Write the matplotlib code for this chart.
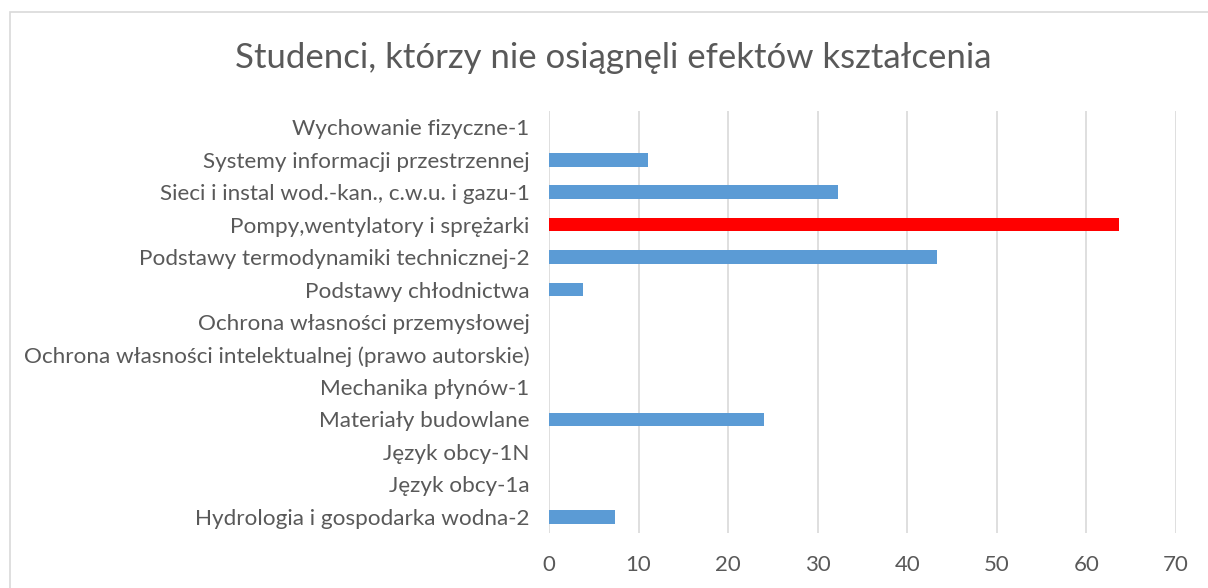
import matplotlib
matplotlib.use("Agg")
import matplotlib.pyplot as plt
from matplotlib.patches import Rectangle

plt.rcParams['font.family'] = ['Lato', 'DejaVu Sans']

categories = [
    "Hydrologia i gospodarka wodna-2",
    "Język obcy-1a",
    "Język obcy-1N",
    "Materiały budowlane",
    "Mechanika płynów-1",
    "Ochrona własności intelektualnej (prawo autorskie)",
    "Ochrona własności przemysłowej",
    "Podstawy chłodnictwa",
    "Podstawy termodynamiki technicznej-2",
    "Pompy,wentylatory i sprężarki",
    "Sieci i instal wod.-kan., c.w.u. i gazu-1",
    "Systemy informacji przestrzennej",
    "Wychowanie fizyczne-1",
]
values = [7.4, 0, 0, 24.0, 0, 0, 0, 3.8, 43.3, 63.6, 32.3, 11.1, 0]
highlight = "Pompy,wentylatory i sprężarki"
x_ticks = [0, 10, 20, 30, 40, 50, 60, 70]
title = "Studenci, którzy nie osiągnęli efektów kształcenia"

W, H = 1208, 588
fig = plt.figure(figsize=(W / 100, H / 100), dpi=100)
fig.patches.append(Rectangle((10 / W, -0.1), 1.2, 1 - 12 / H + 0.1,
                             transform=fig.transFigure, fill=False,
                             edgecolor="#D9D9D9", linewidth=1.2))
ax = fig.add_axes([549 / W, 1 - 533 / H, (1176 - 549) / W, (533 - 111) / H])

colors = ["#FF0000" if c == highlight else "#5B9BD5" for c in categories]
ypos = list(range(len(categories)))
ax.barh(ypos, values, height=0.42, color=colors, zorder=3)

ax.set_ylim(-0.5, len(categories) - 0.5)
ax.set_xlim(0, 70)
ax.set_xticks(x_ticks)
ax.set_yticks(ypos)
ax.set_yticklabels(categories)
ax.tick_params(axis="y", length=0, pad=14, labelsize=16.2, labelcolor="#595959")
ax.tick_params(axis="x", length=0, pad=16, labelsize=16, labelcolor="#595959")
ax.grid(axis="x", color="#D9D9D9", linewidth=1.2, zorder=0)
for s in ax.spines.values():
    s.set_visible(False)

fig.text(613 / W, 1 - 58 / H, title, ha="center", va="center",
         fontsize=25, color="#595959")

fig.savefig("out.png", dpi=100)
